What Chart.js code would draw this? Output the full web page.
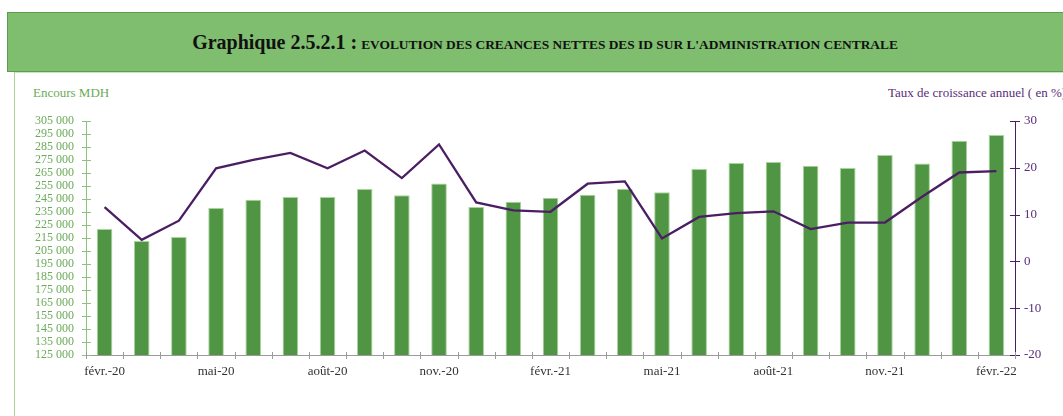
<!DOCTYPE html>
<html>
<head>
<meta charset="utf-8">
<script src="https://cdn.jsdelivr.net/npm/chart.js@4/dist/chart.umd.min.js"></script>
<style>
  body { margin: 0; background: #fff; width: 1063px; height: 416px; overflow: hidden; position: relative; font-family: "Liberation Serif", serif; }
  #titre { position: absolute; left: 7px; top: 12px; width: 1076px; height: 60px; box-sizing: border-box;
           background: #7fbd6f; border: 1px solid #5d9e4d; text-align: center; line-height: 58px; color: #111; }
  #titre .gros { font-size: 20px; font-weight: bold; }
  #titre .petit { font-size: 13.4px; font-weight: bold; }
  #cadre { position: absolute; left: 14px; top: 72px; width: 1060px; height: 360px; border-left: 1px solid #a9d39b; border-top: 1px solid #c9e5bf; }
  #gauche { position: absolute; left: 33px; top: 85px; color: #6aab57; font-size: 13px; }
  #droite { position: absolute; left: 888px; top: 85px; color: #5a2d7a; font-size: 13px; white-space: nowrap; }
  canvas { position: absolute; left: 0; top: 0; }
</style>
</head>
<body>
<div id="titre"><span class="gros">Graphique 2.5.2.1 :</span> <span class="petit">EVOLUTION DES CREANCES NETTES DES ID SUR L'ADMINISTRATION CENTRALE</span></div>
<div id="cadre"></div>
<div id="gauche">Encours MDH</div>
<div id="droite">Taux de croissance annuel ( en %)</div>
<canvas id="graphique" width="1063" height="416"></canvas>
<script>
// mois (fin de période)
const mois = ['févr.-20', 'mars-20', 'avr.-20', 'mai-20', 'juin-20', 'juil.-20', 'août-20', 'sept.-20', 'oct.-20',
  'nov.-20', 'déc.-20', 'janv.-21', 'févr.-21', 'mars-21', 'avr.-21', 'mai-21', 'juin-21', 'juil.-21', 'août-21',
  'sept.-21', 'oct.-21', 'nov.-21', 'déc.-21', 'janv.-22', 'févr.-22'];

// encours en MDH (barres)
const encours = [221900, 212700, 215800, 238000, 244500, 246500, 246500, 252700, 247800, 257000, 238800, 242900,
  246000, 248300, 252900, 250100, 268100, 272700, 273500, 270600, 268800, 278800, 272400, 289800, 294200];

// taux de croissance annuel en % (courbe)
const taux = [11.6, 4.6, 8.7, 19.9, 21.7, 23.2, 19.9, 23.7, 17.8, 25.0, 12.6, 10.9, 10.6, 16.6, 17.1, 4.9, 9.5,
  10.3, 10.7, 6.9, 8.3, 8.3, 13.8, 19.0, 19.3];

const vert = '#4f9543';
const violet = '#4b1e63';

// petits traits qui croisent les axes
const traitsCroises = {
  id: 'traitsCroises',
  afterDraw(chart) {
    const { ctx, scales } = chart;
    const x = scales.x, y = scales.y, y1 = scales.y1;
    ctx.save();
    ctx.lineWidth = 1;
    const trait = (x0, y0, x2, y2) => { ctx.beginPath(); ctx.moveTo(x0, y0); ctx.lineTo(x2, y2); ctx.stroke(); };
    ctx.strokeStyle = '#8cc27b';
    y.ticks.forEach((t, i) => { const p = Math.round(y.getPixelForTick(i)) + 0.5; trait(y.right - 4, p, y.right + 5, p); });
    ctx.strokeStyle = violet;
    y1.ticks.forEach((t, i) => { const p = Math.round(y1.getPixelForTick(i)) + 0.5; trait(y1.left - 5, p, y1.left + 5, p); });
    ctx.strokeStyle = '#9a9a9a';
    const pas = x.getPixelForValue(1) - x.getPixelForValue(0);
    for (let i = 0; i <= mois.length; i++) {
      const p = Math.round(x.getPixelForValue(0) - pas / 2 + i * pas) + 0.5;
      trait(p, x.top - 3, p, x.top + 4);
    }
    ctx.restore();
  }
};

new Chart(document.getElementById('graphique').getContext('2d'), {
  data: {
    labels: mois,
    datasets: [{
      type: 'line',
      data: taux,
      yAxisID: 'y1',
      borderColor: violet,
      borderWidth: 2.3,
      pointRadius: 0,
      tension: 0,
      order: 0
    }, {
      type: 'bar',
      data: encours,
      yAxisID: 'y',
      backgroundColor: vert,
      borderColor: '#a9d49b',
      borderWidth: 1,
      categoryPercentage: 1,
      barPercentage: 0.42,
      order: 1
    }]
  },
  options: {
    responsive: false,
    animation: false,
    layout: { padding: { top: 121, bottom: 0, left: 0, right: 0 } },
    plugins: { legend: { display: false }, tooltip: { enabled: false } },
    scales: {
      x: {
        offset: true,
        grid: { display: true, drawOnChartArea: false, drawTicks: false },
        border: { color: '#9a9a9a' },
        ticks: {
          autoSkip: false, maxRotation: 0, padding: 9, color: '#333',
          font: { family: 'Liberation Serif', size: 13 },
          callback: (v, i) => (i % 3 === 0 ? mois[i] : '')
        },
        afterFit: s => { s.height = 61; }
      },
      y: {
        position: 'left',
        min: 125000, max: 305000,
        grid: { display: true, drawOnChartArea: false, drawTicks: false },
        border: { color: '#8cc27b' },
        ticks: {
          autoSkip: false, stepSize: 10000, padding: 12, color: '#6aab57',
          font: { family: 'Liberation Serif', size: 12 },
          callback: v => v.toLocaleString('fr-FR').replace(/\s/g, ' ')
        },
        afterFit: s => { s.width = 86; }
      },
      y1: {
        position: 'right',
        min: -20, max: 30,
        grid: { display: true, drawOnChartArea: false, drawTicks: false },
        border: { color: violet },
        ticks: {
          stepSize: 10, padding: 9, color: '#5a2d7a',
          font: { family: 'Liberation Serif', size: 13 }
        },
        afterFit: s => { s.width = 48; }
      }
    }
  },
  plugins: [traitsCroises]
});
</script>
</body>
</html>
